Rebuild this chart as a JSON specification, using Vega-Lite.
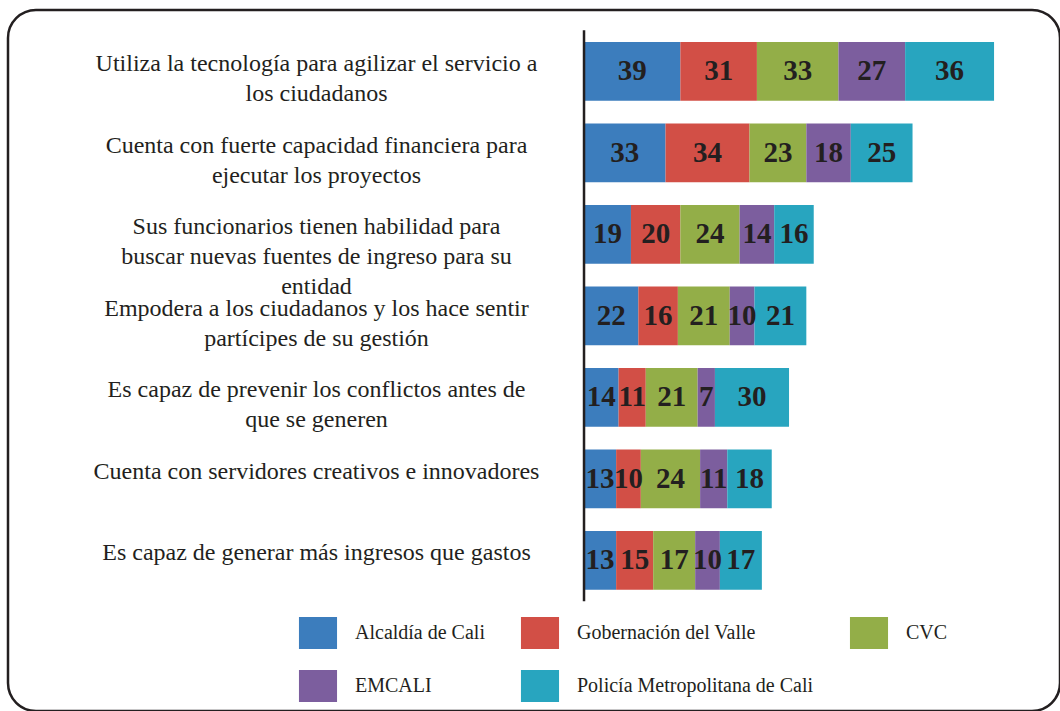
{
  "$schema": "https://vega.github.io/schema/vega-lite/v6.json",
  "width": 1052,
  "height": 701,
  "autosize": "none",
  "padding": {"left": 8, "top": 10, "right": 0, "bottom": 0},
  "background": "white",
  "view": {"stroke": "#231f20", "strokeWidth": 2.5, "cornerRadius": 28, "fill": "white"},
  "config": {
    "font": "Liberation Serif"
  },
  "data": {
    "values": [
      {"item": "Utiliza la tecnología para agilizar el servicio a|los ciudadanos", "entidad": "Alcaldía de Cali", "n": 1, "valor": 39},
      {"item": "Utiliza la tecnología para agilizar el servicio a|los ciudadanos", "entidad": "Gobernación del Valle", "n": 2, "valor": 31},
      {"item": "Utiliza la tecnología para agilizar el servicio a|los ciudadanos", "entidad": "CVC", "n": 3, "valor": 33},
      {"item": "Utiliza la tecnología para agilizar el servicio a|los ciudadanos", "entidad": "EMCALI", "n": 4, "valor": 27},
      {"item": "Utiliza la tecnología para agilizar el servicio a|los ciudadanos", "entidad": "Policía Metropolitana de Cali", "n": 5, "valor": 36},
      {"item": "Cuenta con fuerte capacidad financiera para|ejecutar los proyectos", "entidad": "Alcaldía de Cali", "n": 1, "valor": 33},
      {"item": "Cuenta con fuerte capacidad financiera para|ejecutar los proyectos", "entidad": "Gobernación del Valle", "n": 2, "valor": 34},
      {"item": "Cuenta con fuerte capacidad financiera para|ejecutar los proyectos", "entidad": "CVC", "n": 3, "valor": 23},
      {"item": "Cuenta con fuerte capacidad financiera para|ejecutar los proyectos", "entidad": "EMCALI", "n": 4, "valor": 18},
      {"item": "Cuenta con fuerte capacidad financiera para|ejecutar los proyectos", "entidad": "Policía Metropolitana de Cali", "n": 5, "valor": 25},
      {"item": "Sus funcionarios tienen habilidad para|buscar nuevas fuentes de ingreso para su|entidad", "entidad": "Alcaldía de Cali", "n": 1, "valor": 19},
      {"item": "Sus funcionarios tienen habilidad para|buscar nuevas fuentes de ingreso para su|entidad", "entidad": "Gobernación del Valle", "n": 2, "valor": 20},
      {"item": "Sus funcionarios tienen habilidad para|buscar nuevas fuentes de ingreso para su|entidad", "entidad": "CVC", "n": 3, "valor": 24},
      {"item": "Sus funcionarios tienen habilidad para|buscar nuevas fuentes de ingreso para su|entidad", "entidad": "EMCALI", "n": 4, "valor": 14},
      {"item": "Sus funcionarios tienen habilidad para|buscar nuevas fuentes de ingreso para su|entidad", "entidad": "Policía Metropolitana de Cali", "n": 5, "valor": 16},
      {"item": "Empodera a los ciudadanos y los hace sentir|partícipes de su gestión", "entidad": "Alcaldía de Cali", "n": 1, "valor": 22},
      {"item": "Empodera a los ciudadanos y los hace sentir|partícipes de su gestión", "entidad": "Gobernación del Valle", "n": 2, "valor": 16},
      {"item": "Empodera a los ciudadanos y los hace sentir|partícipes de su gestión", "entidad": "CVC", "n": 3, "valor": 21},
      {"item": "Empodera a los ciudadanos y los hace sentir|partícipes de su gestión", "entidad": "EMCALI", "n": 4, "valor": 10},
      {"item": "Empodera a los ciudadanos y los hace sentir|partícipes de su gestión", "entidad": "Policía Metropolitana de Cali", "n": 5, "valor": 21},
      {"item": "Es capaz de prevenir los conflictos antes de|que se generen", "entidad": "Alcaldía de Cali", "n": 1, "valor": 14},
      {"item": "Es capaz de prevenir los conflictos antes de|que se generen", "entidad": "Gobernación del Valle", "n": 2, "valor": 11},
      {"item": "Es capaz de prevenir los conflictos antes de|que se generen", "entidad": "CVC", "n": 3, "valor": 21},
      {"item": "Es capaz de prevenir los conflictos antes de|que se generen", "entidad": "EMCALI", "n": 4, "valor": 7},
      {"item": "Es capaz de prevenir los conflictos antes de|que se generen", "entidad": "Policía Metropolitana de Cali", "n": 5, "valor": 30},
      {"item": "Cuenta con servidores creativos e innovadores", "entidad": "Alcaldía de Cali", "n": 1, "valor": 13},
      {"item": "Cuenta con servidores creativos e innovadores", "entidad": "Gobernación del Valle", "n": 2, "valor": 10},
      {"item": "Cuenta con servidores creativos e innovadores", "entidad": "CVC", "n": 3, "valor": 24},
      {"item": "Cuenta con servidores creativos e innovadores", "entidad": "EMCALI", "n": 4, "valor": 11},
      {"item": "Cuenta con servidores creativos e innovadores", "entidad": "Policía Metropolitana de Cali", "n": 5, "valor": 18},
      {"item": "Es capaz de generar más ingresos que gastos", "entidad": "Alcaldía de Cali", "n": 1, "valor": 13},
      {"item": "Es capaz de generar más ingresos que gastos", "entidad": "Gobernación del Valle", "n": 2, "valor": 15},
      {"item": "Es capaz de generar más ingresos que gastos", "entidad": "CVC", "n": 3, "valor": 17},
      {"item": "Es capaz de generar más ingresos que gastos", "entidad": "EMCALI", "n": 4, "valor": 10},
      {"item": "Es capaz de generar más ingresos que gastos", "entidad": "Policía Metropolitana de Cali", "n": 5, "valor": 17}
    ]
  },
  "encoding": {
    "y": {
      "field": "item",
      "type": "nominal",
      "sort": null,
      "scale": {"paddingInner": 0.28, "paddingOuter": 0.9405, "align": 0.2087},
      "axis": {
        "title": null,
        "domain": false,
        "ticks": false,
        "tickSize": 0,
        "offset": -576,
        "labelPadding": 268,
        "labelAlign": "center",
        "labelBaseline": "alphabetic",
        "labelOffset": 0,
        "labelLineHeight": 30,
        "labelFont": "Liberation Serif",
        "labelFontSize": 24,
        "labelColor": "#231f20",
        "labelLimit": 700,
        "labelExpr": "split(datum.label, '|')"
      }
    }
  },
  "layer": [
    {
      "mark": {"type": "bar"},
      "encoding": {
        "x": {
          "field": "valor",
          "type": "quantitative",
          "stack": "zero",
          "scale": {"domain": [-233.2, 192.7], "nice": false, "zero": false},
          "axis": null
        },
        "order": {"field": "n", "type": "quantitative"},
        "color": {
          "field": "entidad",
          "type": "nominal",
          "scale": {
            "domain": ["Alcaldía de Cali", "Gobernación del Valle", "CVC", "EMCALI", "Policía Metropolitana de Cali"],
            "range": ["#3c7dbd", "#d24f46", "#93ae48", "#7c5e9e", "#28a5bf"]
          },
          "legend": {
            "title": null,
            "orient": "none",
            "direction": "horizontal",
            "legendX": 294,
            "legendY": 607,
            "columns": 3,
            "padding": 0,
            "symbolType": "M-1.19,-1H1.19V1H-1.19Z",
            "symbolSize": 1024,
            "symbolStrokeWidth": 0,
            "symbolOpacity": 1,
            "labelFont": "Liberation Serif",
            "labelFontSize": 20,
            "labelColor": "#231f20",
            "labelOffset": 21,
            "labelLimit": 400,
            "rowPadding": 21,
            "columnPadding": 35
          }
        }
      }
    },
    {
      "mark": {"type": "text", "font": "Liberation Serif", "fontWeight": "bold", "fontSize": 29, "color": "#231f20", "baseline": "middle", "align": "center"},
      "encoding": {
        "x": {"field": "valor", "type": "quantitative", "stack": "zero", "bandPosition": 0.5},
        "order": {"field": "n", "type": "quantitative"},
        "detail": {"field": "entidad", "type": "nominal"},
        "text": {"field": "valor", "type": "quantitative"}
      }
    },
    {
      "data": {"values": [{}]},
      "mark": {"type": "rule", "color": "#231f20", "strokeWidth": 2.5, "yOffset": -41, "y2Offset": 41},
      "encoding": {
        "x": {"datum": 0, "type": "quantitative"},
        "y": {"datum": "Utiliza la tecnología para agilizar el servicio a|los ciudadanos", "type": "nominal"},
        "y2": {"datum": "Es capaz de generar más ingresos que gastos"}
      }
    }
  ]
}
